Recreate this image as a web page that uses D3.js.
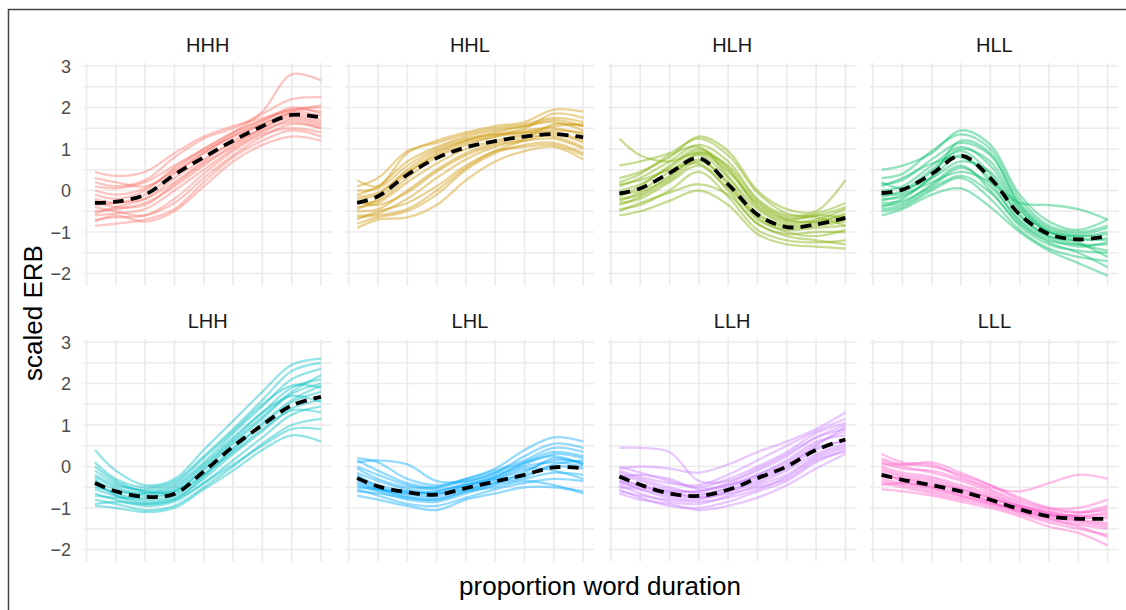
<!DOCTYPE html>
<meta charset="utf-8">
<script src="https://d3js.org/d3.v7.min.js"></script>
<style>
  body { margin: 0; background: #fff; }
  text { font-family: "Liberation Sans", Arial, sans-serif; }
</style>
<div id="my_dataviz"></div>
<script>

// facet names and ggplot hue colours
var panels = ["HHH", "HHL", "HLH", "HLL", "LHH", "LHL", "LLH", "LLL"];
var colours = ["#F8766D", "#CD9600", "#7CAE00", "#00BE67", "#00BFC4", "#00A9FF", "#C77CFF", "#FF61CC"];

// x positions (proportion of word duration) of the sampled points
var tPoints = [0.036, 0.125, 0.25, 0.375, 0.5, 0.625, 0.75, 0.875, 1];
var yTicks = [-2, -1, 0, 1, 2, 3];

// mean contours (dashed)
var meanHHH = [-0.30, -0.27, -0.10, 0.38, 0.80, 1.20, 1.55, 1.82, 1.76];
var meanHHL = [-0.30, -0.14, 0.38, 0.78, 1.04, 1.19, 1.30, 1.36, 1.28];
var meanHLH = [-0.07, 0.05, 0.42, 0.78, 0.15, -0.58, -0.88, -0.82, -0.66];
var meanHLL = [-0.06, 0.02, 0.40, 0.84, 0.30, -0.58, -1.05, -1.18, -1.10];
var meanLHH = [-0.40, -0.60, -0.73, -0.66, -0.12, 0.48, 1.00, 1.47, 1.68];
var meanLHL = [-0.28, -0.48, -0.62, -0.68, -0.52, -0.36, -0.20, -0.02, -0.04];
var meanLLH = [-0.24, -0.44, -0.65, -0.71, -0.56, -0.28, 0.00, 0.40, 0.65];
var meanLLL = [-0.20, -0.32, -0.45, -0.60, -0.80, -1.03, -1.20, -1.26, -1.26];

// individual contours
var curvesHHH = [
  [0.10, 0.05, 0.20, 0.60, 1.00, 1.40, 1.90, 2.80, 2.65],
  [0.45, 0.35, 0.45, 0.90, 1.30, 1.55, 1.75, 1.95, 1.90],
  [0.20, 0.10, 0.25, 0.80, 1.25, 1.50, 1.85, 2.20, 2.25],
  [-0.10, -0.20, 0.00, 0.55, 1.00, 1.40, 1.70, 1.95, 2.00],
  [-0.20, -0.30, -0.10, 0.40, 0.90, 1.30, 1.65, 2.00, 1.85],
  [-0.35, -0.30, -0.20, 0.20, 0.70, 1.20, 1.60, 1.85, 1.70],
  [-0.50, -0.45, -0.30, 0.10, 0.60, 1.10, 1.50, 1.75, 1.60],
  [-0.60, -0.55, -0.45, 0.00, 0.50, 1.00, 1.40, 1.70, 1.55],
  [-0.70, -0.65, -0.60, -0.30, 0.30, 0.85, 1.30, 1.60, 1.50],
  [-0.85, -0.80, -0.70, -0.45, 0.20, 0.80, 1.20, 1.45, 1.30],
  [-0.75, -0.60, -0.75, -0.50, 0.10, 0.70, 1.10, 1.30, 1.20],
  [-0.40, -0.50, -0.60, -0.20, 0.40, 0.95, 1.35, 1.50, 1.40],
  [0.00, -0.10, 0.05, 0.50, 0.95, 1.30, 1.60, 1.80, 1.65],
  [-0.55, -0.40, -0.20, 0.30, 0.75, 1.15, 1.50, 1.90, 2.05],
  [-0.25, -0.40, -0.35, 0.15, 0.65, 1.05, 1.45, 1.65, 1.50],
  [0.30, 0.20, 0.10, 0.45, 0.90, 1.35, 1.70, 1.90, 1.80]
];
var curvesHHL = [
  [0.25, 0.10, 0.90, 1.20, 1.40, 1.55, 1.65, 1.95, 1.90],
  [0.10, 0.30, 0.95, 1.15, 1.35, 1.50, 1.60, 1.75, 1.65],
  [-0.10, 0.10, 0.70, 1.05, 1.30, 1.45, 1.55, 1.70, 1.55],
  [-0.20, -0.10, 0.50, 0.95, 1.20, 1.35, 1.50, 1.85, 1.75],
  [-0.30, -0.25, 0.30, 0.80, 1.10, 1.30, 1.45, 1.50, 1.35],
  [-0.40, -0.30, 0.20, 0.65, 1.00, 1.20, 1.35, 1.40, 1.20],
  [-0.50, -0.45, 0.00, 0.50, 0.90, 1.15, 1.30, 1.30, 1.05],
  [-0.60, -0.55, -0.20, 0.30, 0.75, 1.05, 1.20, 1.25, 1.00],
  [-0.80, -0.65, -0.50, -0.10, 0.50, 0.90, 1.10, 1.15, 0.90],
  [-0.90, -0.70, -0.65, -0.35, 0.25, 0.70, 0.95, 1.05, 0.75],
  [-0.70, -0.50, -0.30, 0.10, 0.60, 0.95, 1.05, 1.10, 0.85],
  [0.00, 0.05, 0.60, 1.00, 1.25, 1.35, 1.40, 1.45, 1.40],
  [-0.25, -0.35, -0.05, 0.45, 0.85, 1.10, 1.25, 1.60, 1.55],
  [-0.45, -0.20, 0.40, 0.90, 1.20, 1.40, 1.55, 1.65, 1.45],
  [-0.65, -0.60, -0.45, 0.00, 0.55, 0.95, 1.20, 1.35, 1.15],
  [-0.15, -0.05, 0.45, 0.85, 1.15, 1.30, 1.40, 1.55, 1.60]
];
var curvesHLH = [
  [1.25, 0.85, 0.70, 0.90, 0.45, -0.30, -0.70, -0.75, -0.60],
  [0.60, 0.70, 0.90, 1.25, 0.85, -0.05, -0.55, -0.60, -0.40],
  [0.30, 0.45, 0.80, 1.30, 0.95, 0.00, -0.45, -0.50, 0.25],
  [0.10, 0.30, 0.70, 1.10, 0.70, -0.20, -0.60, -0.55, -0.30],
  [0.00, 0.15, 0.55, 0.95, 0.50, -0.40, -0.75, -0.70, -0.45],
  [-0.10, 0.00, 0.45, 0.85, 0.30, -0.55, -0.85, -0.80, -0.70],
  [-0.20, -0.10, 0.35, 0.75, 0.15, -0.70, -0.95, -0.90, -0.85],
  [-0.30, -0.20, 0.20, 0.60, 0.00, -0.80, -1.05, -1.00, -1.00],
  [-0.45, -0.35, 0.00, 0.45, -0.15, -0.95, -1.20, -1.25, -1.20],
  [-0.60, -0.50, -0.25, 0.00, -0.35, -1.05, -1.30, -1.35, -1.40],
  [-0.50, -0.30, -0.05, 0.15, -0.10, -0.80, -1.10, -1.20, -1.30],
  [0.20, 0.40, 0.85, 1.05, 0.35, -0.45, -0.80, -0.75, -0.55],
  [-0.15, 0.10, 0.60, 1.00, 0.55, -0.35, -0.70, -0.60, -0.65],
  [-0.35, -0.15, 0.25, 0.70, 0.20, -0.65, -1.00, -1.10, -0.95],
  [0.15, 0.25, 0.50, 0.65, 0.05, -0.60, -0.90, -0.85, -0.75],
  [-0.25, -0.05, 0.30, 0.90, 0.60, -0.25, -0.65, -0.65, -0.85]
];
var curvesHLL = [
  [0.50, 0.60, 0.90, 1.45, 1.10, -0.10, -0.75, -0.95, -0.70],
  [0.30, 0.40, 0.95, 1.35, 1.00, -0.20, -0.85, -1.00, -0.85],
  [0.15, 0.25, 0.75, 1.15, 0.85, -0.30, -0.90, -1.05, -0.90],
  [0.00, 0.10, 0.60, 1.05, 0.60, -0.45, -1.00, -1.10, -1.00],
  [-0.10, -0.05, 0.45, 0.95, 0.40, -0.60, -1.10, -1.20, -1.15],
  [-0.20, -0.15, 0.30, 0.85, 0.20, -0.75, -1.20, -1.30, -1.30],
  [-0.35, -0.30, 0.15, 0.60, 0.00, -0.85, -1.30, -1.45, -1.50],
  [-0.50, -0.40, 0.00, 0.30, -0.20, -0.95, -1.40, -1.60, -1.70],
  [-0.60, -0.45, -0.10, 0.05, -0.40, -1.00, -1.45, -1.75, -2.05],
  [-0.25, -0.10, 0.20, 0.45, 0.20, -0.30, -0.35, -0.45, -0.70],
  [0.10, 0.30, 0.65, 0.80, 0.30, -0.60, -1.10, -1.30, -1.45],
  [-0.40, -0.20, 0.35, 1.20, 0.90, -0.35, -0.95, -1.10, -1.05],
  [0.20, 0.05, 0.30, 0.70, 0.45, -0.50, -1.00, -1.15, -1.20],
  [-0.30, -0.25, 0.10, 0.55, 0.10, -0.70, -1.15, -1.35, -1.25],
  [-0.15, 0.00, 0.50, 1.00, 0.70, -0.40, -1.00, -1.25, -1.60],
  [-0.45, -0.35, 0.05, 0.35, -0.05, -0.80, -1.25, -1.50, -1.85]
];
var curvesLHH = [
  [0.40, -0.10, -0.45, -0.30, 0.40, 1.10, 1.80, 2.45, 2.60],
  [0.10, -0.30, -0.50, -0.35, 0.25, 0.90, 1.60, 2.30, 2.50],
  [-0.10, -0.40, -0.60, -0.45, 0.10, 0.80, 1.45, 2.10, 2.35],
  [-0.25, -0.50, -0.65, -0.55, 0.00, 0.65, 1.30, 1.90, 2.10],
  [-0.35, -0.55, -0.70, -0.60, -0.10, 0.55, 1.15, 1.75, 2.00],
  [-0.45, -0.65, -0.80, -0.70, -0.20, 0.45, 1.00, 1.55, 1.80],
  [-0.55, -0.70, -0.85, -0.75, -0.30, 0.30, 0.85, 1.40, 1.60],
  [-0.65, -0.80, -0.95, -0.85, -0.40, 0.15, 0.70, 1.25, 1.45],
  [-0.80, -0.90, -1.05, -0.95, -0.50, 0.00, 0.55, 1.00, 1.15],
  [-0.95, -1.00, -1.10, -1.00, -0.55, -0.10, 0.40, 0.75, 0.60],
  [-0.90, -0.85, -0.90, -0.80, -0.40, 0.05, 0.50, 0.90, 0.90],
  [-0.20, -0.45, -0.55, -0.40, 0.20, 0.85, 1.50, 1.95, 1.90],
  [-0.50, -0.60, -0.65, -0.50, 0.05, 0.70, 1.30, 1.70, 1.55],
  [-0.30, -0.70, -0.90, -0.80, -0.25, 0.40, 1.05, 1.60, 1.95],
  [-0.70, -0.75, -0.75, -0.65, -0.20, 0.35, 0.90, 1.35, 1.30],
  [0.00, -0.35, -0.60, -0.60, -0.05, 0.60, 1.20, 1.80, 2.20]
];
var curvesLHL = [
  [0.20, 0.10, -0.30, -0.45, -0.30, -0.05, 0.40, 0.70, 0.60],
  [0.10, 0.15, 0.05, -0.35, -0.35, -0.15, 0.25, 0.55, 0.45],
  [-0.05, -0.30, -0.50, -0.50, -0.30, -0.10, 0.15, 0.45, 0.35],
  [-0.15, -0.35, -0.55, -0.60, -0.40, -0.20, 0.05, 0.30, 0.20],
  [-0.25, -0.45, -0.60, -0.65, -0.50, -0.30, -0.10, 0.15, 0.10],
  [-0.35, -0.55, -0.70, -0.75, -0.55, -0.35, -0.20, 0.00, -0.05],
  [-0.45, -0.60, -0.80, -0.85, -0.65, -0.45, -0.30, -0.15, -0.20],
  [-0.55, -0.70, -0.90, -0.95, -0.75, -0.55, -0.40, -0.30, -0.35],
  [-0.70, -0.80, -0.95, -1.05, -0.80, -0.65, -0.50, -0.50, -0.60],
  [-0.60, -0.65, -0.75, -0.80, -0.60, -0.50, -0.35, -0.45, -0.65],
  [-0.30, -0.50, -0.65, -0.70, -0.45, -0.25, 0.10, 0.35, 0.25],
  [-0.40, -0.55, -0.65, -0.60, -0.45, -0.30, -0.05, -0.10, -0.30],
  [0.00, -0.20, -0.45, -0.55, -0.45, -0.25, 0.00, 0.10, 0.00],
  [-0.20, -0.50, -0.75, -0.80, -0.60, -0.40, -0.25, 0.05, 0.15],
  [-0.50, -0.55, -0.60, -0.65, -0.55, -0.40, -0.15, 0.20, 0.05],
  [0.15, -0.10, -0.40, -0.50, -0.35, -0.15, 0.10, 0.25, 0.05]
];
var curvesLLH = [
  [0.45, 0.45, 0.35, -0.35, -0.35, -0.05, 0.30, 0.70, 0.90],
  [-0.05, 0.00, -0.05, -0.15, 0.05, 0.35, 0.60, 0.90, 1.30],
  [-0.10, -0.25, -0.40, -0.45, -0.20, 0.15, 0.50, 0.85, 1.15],
  [-0.20, -0.35, -0.55, -0.60, -0.40, -0.10, 0.25, 0.70, 1.00],
  [-0.30, -0.45, -0.65, -0.70, -0.50, -0.20, 0.10, 0.55, 0.85],
  [-0.35, -0.55, -0.75, -0.80, -0.60, -0.35, -0.05, 0.40, 0.65],
  [-0.45, -0.65, -0.85, -0.90, -0.70, -0.45, -0.20, 0.25, 0.50],
  [-0.55, -0.75, -0.95, -1.00, -0.85, -0.60, -0.35, 0.10, 0.40],
  [-0.65, -0.80, -0.90, -1.05, -0.95, -0.75, -0.45, -0.05, 0.30],
  [-0.40, -0.50, -0.60, -0.60, -0.45, -0.20, 0.15, 0.60, 0.75],
  [-0.15, -0.30, -0.50, -0.65, -0.55, -0.30, 0.00, 0.50, 0.95],
  [-0.50, -0.55, -0.70, -0.75, -0.60, -0.40, -0.10, 0.30, 0.55],
  [-0.25, -0.20, -0.30, -0.55, -0.45, -0.25, 0.05, 0.45, 0.60],
  [-0.60, -0.70, -0.80, -0.85, -0.75, -0.55, -0.25, 0.20, 0.45],
  [0.00, -0.15, -0.35, -0.50, -0.30, 0.00, 0.35, 0.80, 1.05],
  [-0.35, -0.45, -0.60, -0.75, -0.65, -0.50, -0.30, 0.15, 0.35]
];
var curvesLLL = [
  [0.30, 0.10, 0.05, -0.25, -0.50, -0.60, -0.40, -0.20, -0.30],
  [0.20, 0.05, 0.10, -0.15, -0.45, -0.80, -1.00, -1.00, -0.80],
  [0.10, -0.05, -0.10, -0.30, -0.55, -0.85, -1.05, -1.10, -0.95],
  [0.00, -0.15, -0.25, -0.45, -0.65, -0.95, -1.10, -1.20, -1.10],
  [-0.10, -0.25, -0.35, -0.55, -0.75, -1.00, -1.15, -1.25, -1.20],
  [-0.20, -0.30, -0.45, -0.60, -0.85, -1.05, -1.20, -1.30, -1.35],
  [-0.30, -0.40, -0.55, -0.70, -0.90, -1.10, -1.30, -1.40, -1.50],
  [-0.40, -0.50, -0.65, -0.80, -0.95, -1.15, -1.35, -1.50, -1.65],
  [-0.55, -0.60, -0.70, -0.85, -1.00, -1.20, -1.45, -1.60, -1.90],
  [-0.45, -0.40, -0.50, -0.70, -0.85, -1.10, -1.25, -1.35, -1.45],
  [0.05, 0.05, 0.00, -0.20, -0.45, -0.75, -1.00, -1.10, -1.05],
  [-0.15, -0.35, -0.50, -0.65, -0.80, -0.95, -1.10, -1.20, -1.25],
  [-0.35, -0.45, -0.60, -0.75, -0.90, -1.05, -1.20, -1.15, -1.00],
  [-0.25, -0.30, -0.40, -0.55, -0.75, -1.00, -1.25, -1.45, -1.70],
  [0.15, 0.00, -0.15, -0.35, -0.60, -0.90, -1.15, -1.30, -1.40],
  [-0.05, -0.20, -0.30, -0.50, -0.70, -0.95, -1.15, -1.20, -1.15]
];

var means = [meanHHH, meanHHL, meanHLH, meanHLL, meanLHH, meanLHL, meanLLH, meanLLL];
var curves = [curvesHHH, curvesHHL, curvesHLH, curvesHLL, curvesLHH, curvesLHL, curvesLLH, curvesLLL];

var W = 1126, H = 610;

var svg = d3.select("#my_dataviz")
  .append("svg")
    .attr("width", W)
    .attr("height", H);

// plot border (left and top edges only are visible)
svg.append("path")
  .attr("d", "M8.5,610V9.5H1126")
  .attr("fill", "none")
  .attr("stroke", "#444")
  .attr("stroke-width", 1.5);

var line = d3.line().curve(d3.curveCatmullRom.alpha(0.5));

panels.forEach(function(name, i) {
  var col = i % 4, row = Math.floor(i / 4);
  var x0 = 86.5 + col * 262.2;
  var y0 = 66 + row * 276;

  var x = d3.scaleLinear().domain([0, 1]).range([x0, x0 + 234.5]);
  var y = d3.scaleLinear().domain([-2, 3]).range([y0 + 207.5, y0]);

  var g = svg.append("g");
  var left = x(-0.013), right = x(1.047), top = y(3.07), bottom = y(-2.29);

  // grid: majors and minors
  g.selectAll("hgrid")
    .data(d3.range(-2, 3.01, 0.5))
    .enter()
    .append("line")
      .attr("x1", left).attr("x2", right)
      .attr("y1", function(d) { return y(d); })
      .attr("y2", function(d) { return y(d); })
      .attr("stroke", "#ebebeb")
      .attr("stroke-width", 1.7);
  g.selectAll("vgrid")
    .data(d3.range(0, 1.001, 0.125))
    .enter()
    .append("line")
      .attr("y1", top).attr("y2", bottom)
      .attr("x1", function(d) { return x(d); })
      .attr("x2", function(d) { return x(d); })
      .attr("stroke", "#ebebeb")
      .attr("stroke-width", 1.7);

  // individual contours
  line.x(function(d, k) { return x(tPoints[k]); })
      .y(function(d) { return y(d); });
  g.selectAll("contour")
    .data(curves[i])
    .enter()
    .append("path")
      .attr("d", line)
      .attr("fill", "none")
      .attr("stroke", colours[i])
      .attr("stroke-opacity", 0.42)
      .attr("stroke-width", 2.3);

  // mean contour
  g.append("path")
    .attr("d", line(means[i]))
    .attr("fill", "none")
    .attr("stroke", "#000")
    .attr("stroke-width", 3.8)
    .attr("stroke-dasharray", "11,7");

  // strip label
  g.append("text")
    .attr("x", (left + right) / 2)
    .attr("y", y0 - 14)
    .attr("text-anchor", "middle")
    .style("font-size", "20px")
    .style("fill", "#1a1a1a")
    .text(name);

  // y tick labels on first column (ggplot uses a true minus sign)
  if (col === 0) {
    g.selectAll("ytick")
      .data(yTicks)
      .enter()
      .append("text")
        .attr("x", 71)
        .attr("y", function(d) { return y(d) + 6.5; })
        .attr("text-anchor", "end")
        .style("font-size", "18px")
        .style("fill", "#4d4d4d")
        .text(function(d) { return d < 0 ? "\u2212" + Math.abs(d) : d; });
  }
});

// axis titles
svg.append("text")
  .attr("x", 600)
  .attr("y", 595)
  .attr("text-anchor", "middle")
  .style("font-size", "26px")
  .style("fill", "#000")
  .text("proportion word duration");

svg.append("text")
  .attr("transform", "translate(42,313) rotate(-90)")
  .attr("text-anchor", "middle")
  .style("font-size", "26px")
  .style("fill", "#000")
  .text("scaled ERB");

</script>
